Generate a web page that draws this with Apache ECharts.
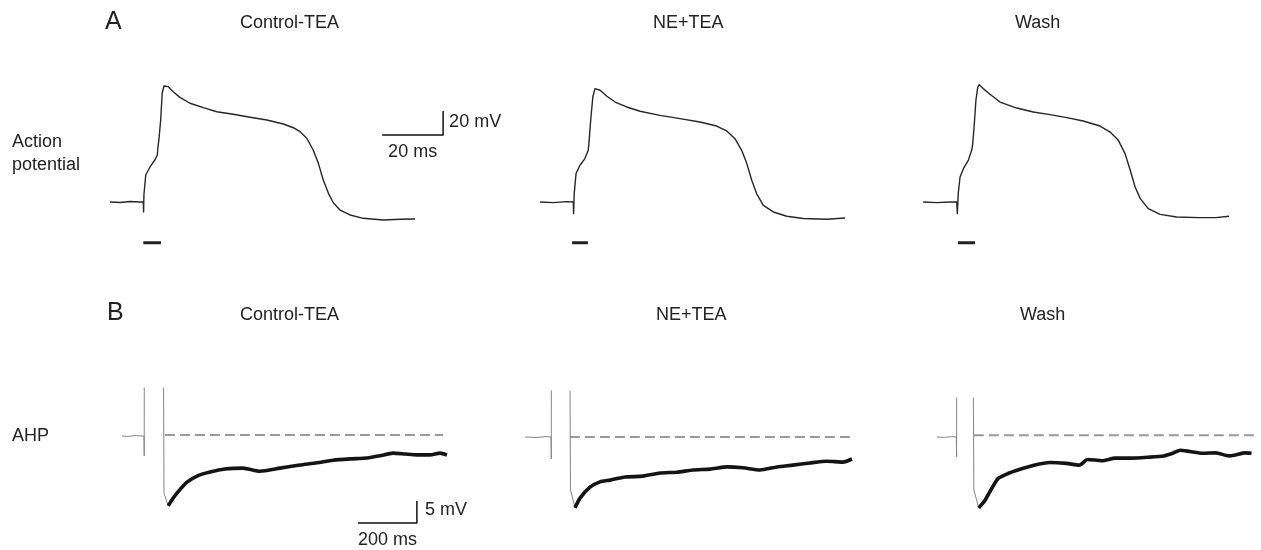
<!DOCTYPE html>
<html><head><meta charset="utf-8">
<script src="https://cdn.jsdelivr.net/npm/echarts@6/dist/echarts.min.js"></script>
<style>html,body{margin:0;padding:0;background:#fff}#c{width:1261px;height:550px}</style>
</head><body><div id="c"></div>
<script>
// ================= DATA =================
const conditions = ['Control-TEA', 'NE+TEA', 'Wash'];
const rowLetters = ['A', 'B'];
const rowLabelAP = ['Action', 'potential'];
const rowLabelAHP = ['AHP'];

// Action potentials: [time (ms), membrane potential (mV)]
const apControl = [[-10.9,-80.0],[-7.6,-80.4],[-4.4,-79.6],[-1.1,-80.0],[0,-80],[0.1,-88.3],[0.2,-74.2],[0.8,-57.5],[2.2,-50.8],[3.8,-45.0],[4.6,-40.8],[4.8,-34.2],[5.1,-28.3],[5.7,-11.7],[6.2,10.8],[6.8,16.7],[7.3,18.1],[8.2,16.1],[9.8,11.9],[12.0,7.2],[15.3,2.3],[19.7,-1.4],[24.1,-4.8],[29.5,-6.9],[35.0,-9.4],[40.5,-11.7],[45.9,-15.0],[49.2,-18.1],[51.4,-21.4],[53.6,-26.9],[55.7,-36.7],[57.4,-47.8],[59.0,-61.7],[60.7,-72.8],[62.3,-80.6],[64.5,-86.7],[67.8,-90.8],[72.1,-93.6],[78.7,-95.0],[84.2,-94.4],[89.1,-94.2]];
const apNE = [[-10.9,-80.0],[-6.6,-80.5],[-2.2,-79.7],[0,-80],[0.1,-89.7],[0.3,-73.0],[0.9,-56.3],[2.2,-49.4],[3.8,-43.8],[4.9,-36.9],[5.2,-28.6],[5.7,-11.9],[6.4,7.5],[7.1,14.5],[7.7,15.3],[8.8,13.1],[11.0,8.1],[13.7,3.3],[17.5,-0.8],[21.9,-4.4],[28.4,-7.8],[35.0,-10.5],[41.5,-13.3],[47.0,-16.7],[50.3,-20.8],[53.0,-27.2],[55.2,-36.9],[56.9,-48.0],[58.5,-61.9],[60.1,-73.0],[62.3,-82.8],[65.6,-88.3],[70.0,-91.9],[75.4,-93.8],[83.1,-94.4],[89.1,-93.3]];
const apWash = [[-11.0,-80.0],[-6.6,-80.5],[-2.2,-80.0],[0,-80],[0.2,-89.7],[0.5,-73.0],[1.1,-59.2],[2.2,-52.2],[3.8,-45.3],[4.9,-36.9],[5.2,-32.8],[5.7,-17.5],[6.3,4.8],[6.9,15.8],[7.4,17.8],[8.7,14.5],[10.9,9.8],[14.2,3.3],[19.7,-1.7],[25.1,-5.0],[30.6,-7.2],[36.1,-9.7],[41.5,-12.5],[47.0,-16.7],[50.3,-21.7],[53.0,-28.6],[55.2,-39.7],[56.9,-53.6],[58.5,-67.5],[60.2,-77.2],[62.8,-85.5],[66.7,-90.3],[72.1,-92.5],[79.4,-93.0],[84.9,-93.0],[89.3,-91.9]];
// stimulus marker under each AP: [start ms, end ms]
const stimControl = [0, 5.8];
const stimNE = [-0.4, 4.8];
const stimWash = [0.4, 6.0];
const stimLevel = -114; // mV

// AHP recordings: spike part (clipped, thin) and after-hyperpolarization part.
// [time (ms), potential relative to baseline (mV)]
const ahpSpikeControl = [[-74.6,0],[-54,-0.1],[-30.5,0.1],[-6.8,0],[0,0],[0.7,-4.5],[1.5,60],[63.4,60],[67.8,-13.0],[82.4,-15.9]];
const ahpControl = [[82.4,-15.9],[94.9,-14.5],[115.3,-12.7],[145.8,-10.5],[179.7,-9.1],[223.7,-8.2],[274.6,-7.5],[335.6,-7.3],[393.2,-8.0],[461,-7.3],[528.8,-6.6],[586.4,-6.1],[640.7,-5.5],[698.3,-5.2],[755.9,-5.0],[800,-4.5],[844.1,-3.9],[884.7,-4.1],[925.4,-4.3],[969.5,-4.3],[1003.4,-3.9],[1027.1,-4.3]];
const ahpSpikeNE = [[-88.1,0],[-47.5,-0.1],[-20.3,0.1],[0,0],[1.0,-5.0],[1.7,60],[61,60],[66.1,-12.0],[81.4,-16.1]];
const ahpNE = [[81.4,-16.1],[98.3,-13.9],[132.2,-11.4],[166.1,-10.2],[200,-9.8],[250.8,-9.1],[311.9,-8.9],[369.5,-8.2],[426.4,-8.0],[481.4,-7.5],[539,-7.3],[596.6,-6.8],[650.8,-7.0],[708.5,-7.5],[766.1,-6.8],[820.3,-6.4],[877.9,-5.9],[935.6,-5.5],[989.8,-5.7],[1020.3,-5.0]];
const ahpSpikeWash = [[-67.8,0],[-40.7,-0.1],[-16.9,0.1],[0,0],[1.0,-4.5],[1.7,60],[55.3,60],[61,-12.0],[78,-16.1]];
const ahpWash = [[78,-16.1],[100.7,-14.3],[123.1,-11.7],[145.8,-9.4],[179.7,-8.3],[213.6,-7.5],[270.2,-6.4],[326.4,-5.8],[383.1,-6.0],[428.1,-6.4],[456.6,-5.1],[507.5,-5.4],[552.5,-4.8],[609.2,-4.8],[665.4,-4.6],[722,-4.3],[755.9,-3.6],[778.6,-3.0],[812.5,-3.3],[857.6,-3.7],[902.7,-3.6],[948.1,-4.3],[970.5,-4.1],[1004.4,-3.6],[1027.1,-3.7]];
// dashed pre-spike baseline: [start ms, end ms, level mV]
const dashControl = [71, 1014, 0.2];
const dashNE = [64, 1014, 0];
const dashWash = [61, 1035, 0.4];

// scale bars
const apScaleMs = 20, apScaleMv = 20;
const ahpScaleMs = 200, ahpScaleMv = 5;

// ================= LAYOUT =================
const AP = { pxMs: 3.05, pxMv: 1.2, baseY: 202, baseV: -80, x0: [143.3, 573.3, 956.7],
             xmin: -12, xmax: [102, 92, 92], ymin: -120, ymax: 25 };
const AH = { pxMs: 0.295, pxMv: 4.4, baseY: [436, 437, 437], x0: [144, 551, 957],
             xmin: -90, xmax: 1060, ymin: -21, ymax: [10.9, 10.45, 8.86] };

const grids = [], xAxes = [], yAxes = [], series = [];
function addGrid(left, top, width, height, xmin, xmax, ymin, ymax) {
  grids.push({ left, top, width, height, containLabel: false, show: false });
  const i = grids.length - 1;
  xAxes.push({ gridIndex: i, type: 'value', min: xmin, max: xmax, show: false });
  yAxes.push({ gridIndex: i, type: 'value', min: ymin, max: ymax, show: false });
  return i;
}
function line(gi, data, color, width, type, smooth) {
  series.push({ type: 'line', xAxisIndex: gi, yAxisIndex: gi, data, symbol: 'none', showSymbol: false,
    clip: true, animation: false, silent: true, smooth: smooth || false,
    lineStyle: { color, width, type: type || 'solid', cap: 'butt', join: 'round' } });
}

const apData = [apControl, apNE, apWash];
const stims = [stimControl, stimNE, stimWash];
const apGrid = [];
for (let k = 0; k < 3; k++) {
  const left = AP.x0[k] + AP.xmin * AP.pxMs;
  const width = (AP.xmax[k] - AP.xmin) * AP.pxMs;
  const top = AP.baseY - (AP.ymax - AP.baseV) * AP.pxMv;
  const height = (AP.ymax - AP.ymin) * AP.pxMv;
  const gi = addGrid(left, top, width, height, AP.xmin, AP.xmax[k], AP.ymin, AP.ymax);
  apGrid.push(gi);
  line(gi, apData[k], '#262626', 1.4);
  line(gi, [[stims[k][0], stimLevel], [stims[k][1], stimLevel]], '#222', 3);
}
// AP scale bar in first panel
const apCorner = [98.3, -24.2];
line(apGrid[0], [[apCorner[0] - apScaleMs, apCorner[1]], apCorner, [apCorner[0], apCorner[1] + apScaleMv]], '#111', 1.5);

const spikeData = [ahpSpikeControl, ahpSpikeNE, ahpSpikeWash];
const ahpData = [ahpControl, ahpNE, ahpWash];
const dashes = [dashControl, dashNE, dashWash];
const ahGrid = [];
for (let k = 0; k < 3; k++) {
  const left = AH.x0[k] + AH.xmin * AH.pxMs;
  const width = (AH.xmax - AH.xmin) * AH.pxMs;
  const top = AH.baseY[k] - AH.ymax[k] * AH.pxMv;
  const height = (AH.ymax[k] - AH.ymin) * AH.pxMv;
  const gi = addGrid(left, top, width, height, AH.xmin, AH.xmax, AH.ymin, AH.ymax[k]);
  ahGrid.push(gi);
  line(gi, [[dashes[k][0], dashes[k][2]], [dashes[k][1], dashes[k][2]]], '#999', 2, [10, 5]);
  line(gi, spikeData[k], '#858585', 1);
  line(gi, ahpData[k], '#141414', 3.6, 'solid', 0.2);
}
const ahCorner = [925, -19.8];
line(ahGrid[0], [[ahCorner[0] - ahpScaleMs, ahCorner[1]], ahCorner, [ahCorner[0], ahCorner[1] + ahpScaleMv]], '#111', 1.5);

const chart = echarts.init(document.getElementById('c'), null, { renderer: 'canvas' });
chart.setOption({ backgroundColor: '#fff', animation: false, grid: grids, xAxis: xAxes, yAxis: yAxes, series });

// ================= TEXT =================
const FONT = '"Liberation Sans", Arial, Helvetica, sans-serif';
function txt(text, x, y, size) {
  return { type: 'text', silent: true, style: { text, x, y, fill: '#222', font: size + 'px ' + FONT,
    align: 'left', verticalAlign: 'middle', textAlign: 'left', textVerticalAlign: 'middle' } };
}
const g = [];
g.push(txt(rowLetters[0], 105, 22, 25));
g.push(txt(rowLetters[1], 107, 313, 25));
const titleX = [[240, 653, 1015], [240, 656, 1020]];
const titleY = [23, 315];
for (let r = 0; r < 2; r++) for (let k = 0; k < 3; k++) g.push(txt(conditions[k], titleX[r][k], titleY[r], 18));
g.push(txt(rowLabelAP[0], 12, 142, 18));
g.push(txt(rowLabelAP[1], 12, 165, 18));
g.push(txt(rowLabelAHP[0], 12, 436, 18));

const pA = chart.convertToPixel({ gridIndex: apGrid[0] }, apCorner);
g.push(txt(apScaleMv + ' mV', pA[0] + 6, pA[1] - apScaleMv * AP.pxMv / 2 - 1, 18));
g.push(txt(apScaleMs + ' ms', pA[0] - apScaleMs * AP.pxMs + 6, pA[1] + 17, 18));
const pB = chart.convertToPixel({ gridIndex: ahGrid[0] }, ahCorner);
g.push(txt(ahpScaleMv + ' mV', pB[0] + 8, pB[1] - ahpScaleMv * AH.pxMv / 2 - 2, 18));
g.push(txt(ahpScaleMs + ' ms', pB[0] - ahpScaleMs * AH.pxMs, pB[1] + 17, 18));
chart.setOption({ graphic: g });
</script></body></html>
